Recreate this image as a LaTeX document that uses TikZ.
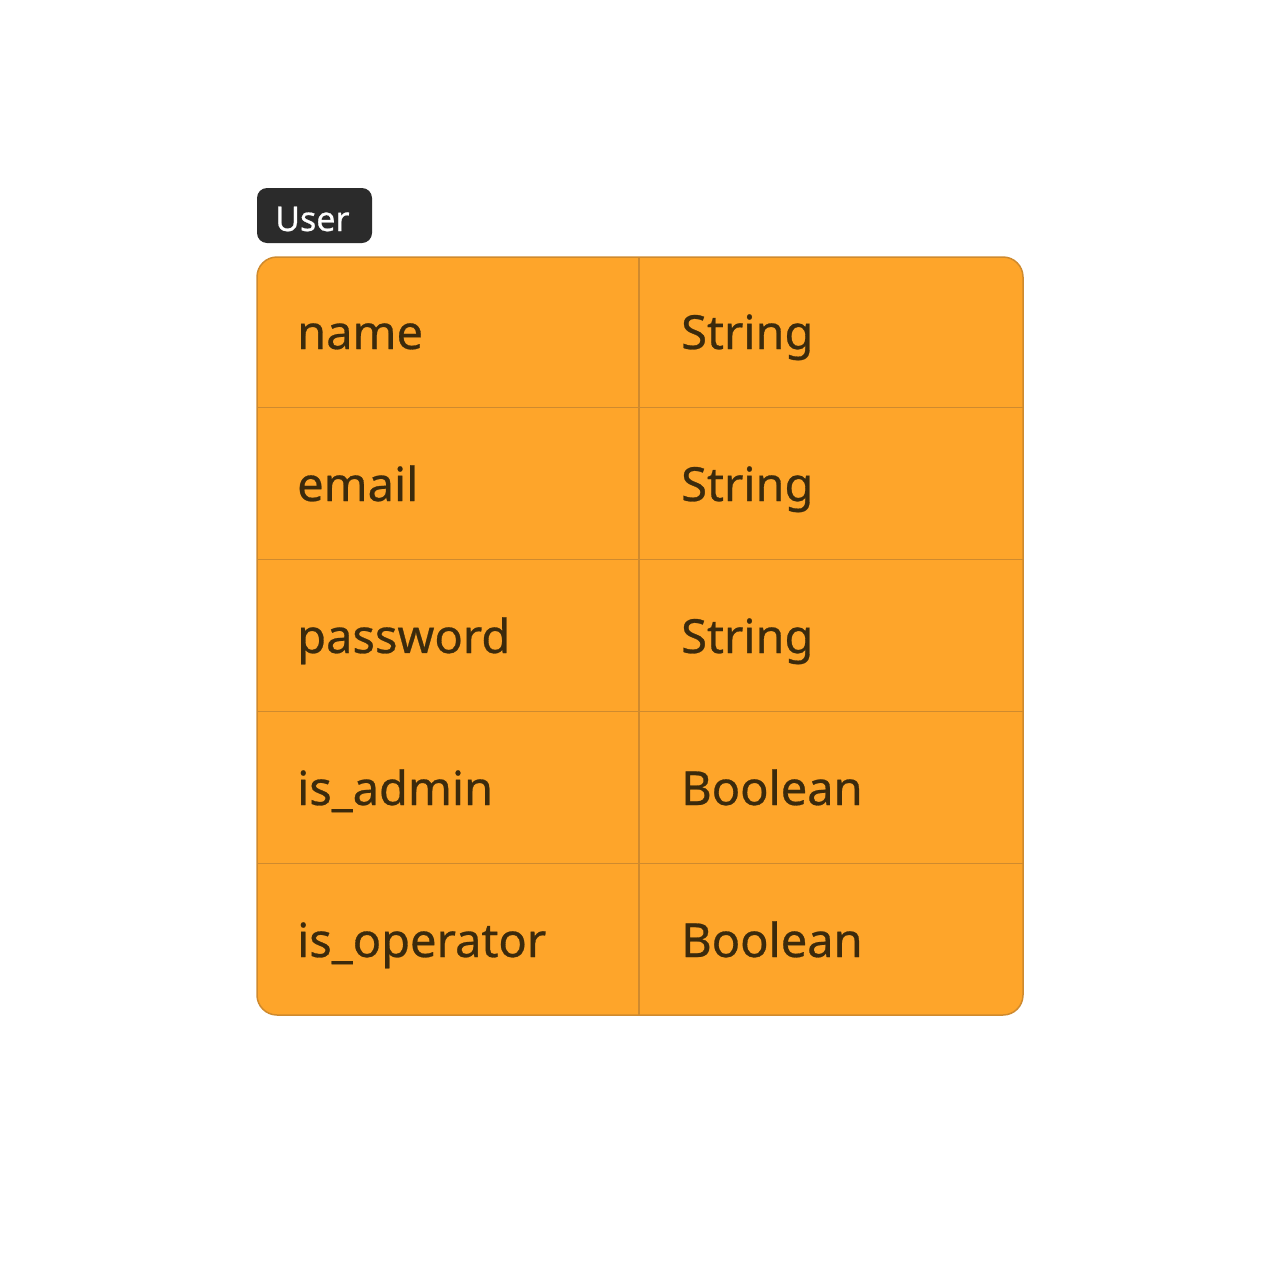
\documentclass[tikz,border=0pt]{standalone}
\usepackage{fontspec}
\setmainfont{Noto Sans}[FakeBold=0.6]
\definecolor{cellfill}{HTML}{FEA52A}
\definecolor{cellline}{HTML}{CF8A2E}
\definecolor{celltext}{HTML}{3B2A0C}
\definecolor{tagfill}{HTML}{2B2B2B}
\begin{document}
\begin{tikzpicture}[x=1pt,y=-1pt,
  celltxt/.style={anchor=base west,inner sep=0pt,text=celltext,font=\fontsize{47}{56}\selectfont},
  tagtxt/.style={anchor=base west,inner sep=0pt,text=white,font=\fontsize{34}{40}\selectfont}]
\useasboundingbox (0,0) rectangle (1280,1272);
% tag
\fill[tagfill,rounded corners=10pt] (257,188) rectangle (372,243);
\node[tagtxt] (tag) at (275,231) {User};
% table
\fill[cellfill,rounded corners=20pt] (257,257) rectangle (1023,1015);
\foreach \y in {407.5,559.5,711.5,863.5}
  \draw[cellline,line width=1.5pt] (257,\y) -- (1023,\y);
\draw[cellline,line width=1.5pt] (639,257) -- (639,1015);
\draw[cellline,line width=1.5pt,rounded corners=20pt] (257,257) rectangle (1023,1015);
% texts
\node[celltxt] (n1) at (297,349) {name};
\node[celltxt] (t1) at (681,349) {String};
\node[celltxt] (n2) at (297,501) {email};
\node[celltxt] (t2) at (681,501) {String};
\node[celltxt] (n3) at (297,653) {password};
\node[celltxt] (t3) at (681,653) {String};
\node[celltxt] (n4) at (297,805) {is\_admin};
\node[celltxt] (t4) at (681,805) {Boolean};
\node[celltxt] (n5) at (297,957) {is\_operator};
\node[celltxt] (t5) at (681,957) {Boolean};
\end{tikzpicture}
\end{document}
